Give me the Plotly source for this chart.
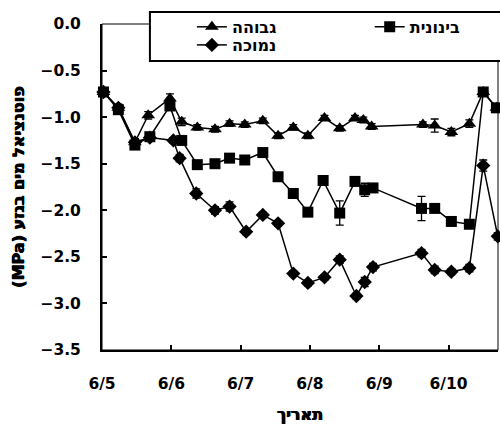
import plotly.graph_objects as go

# ---- data ----
high_t = ["2005-06-05 00:30", "2005-06-05 05:40", "2005-06-05 11:24", "2005-06-05 16:00",
          "2005-06-05 23:31", "2005-06-06 03:36", "2005-06-06 09:00", "2005-06-06 15:07",
          "2005-06-06 20:10", "2005-06-07 01:26", "2005-06-07 07:41", "2005-06-07 12:58",
          "2005-06-07 18:14", "2005-06-07 23:17", "2005-06-08 05:02", "2005-06-08 10:19",
          "2005-06-08 15:36", "2005-06-08 18:29", "2005-06-08 21:22", "2005-06-09 15:07",
          "2005-06-09 19:12", "2005-06-10 00:58", "2005-06-10 07:12", "2005-06-10 12:00",
          "2005-06-10 16:34"]
high_v = [-0.73, -0.90, -1.27, -0.98, -0.80, -1.05, -1.11, -1.13, -1.07, -1.08, -1.04, -1.20,
          -1.11, -1.20, -1.01, -1.12, -1.01, -1.03, -1.10, -1.08, -1.09, -1.16, -1.07, -0.73, -0.90]
high_e = [0.03, 0.04, 0.04, 0.04, 0.05, 0.04, 0.03, 0.03, 0.03, 0.03, 0.03, 0.03,
          0.03, 0.03, 0.03, 0.03, 0.03, 0.03, 0.03, 0.03, 0.07, 0.04, 0.04, 0.03, 0.03]

mid_t = ["2005-06-05 00:30", "2005-06-05 05:40", "2005-06-05 11:24", "2005-06-05 16:34",
         "2005-06-05 23:31", "2005-06-06 03:36", "2005-06-06 09:00", "2005-06-06 15:07",
         "2005-06-06 20:10", "2005-06-07 01:26", "2005-06-07 07:41", "2005-06-07 12:58",
         "2005-06-07 18:14", "2005-06-07 23:17", "2005-06-08 04:34", "2005-06-08 10:19",
         "2005-06-08 15:36", "2005-06-08 18:58", "2005-06-08 21:50", "2005-06-09 14:38",
         "2005-06-09 19:12", "2005-06-10 00:58", "2005-06-10 07:12", "2005-06-10 12:00",
         "2005-06-10 16:34"]
mid_v = [-0.73, -0.92, -1.30, -1.21, -0.88, -1.25, -1.51, -1.50, -1.44, -1.46, -1.38, -1.64,
         -1.82, -2.02, -1.68, -2.03, -1.69, -1.78, -1.76, -1.98, -1.98, -2.12, -2.15, -0.73, -0.90]
mid_e = [0.03, 0.03, 0.04, 0.03, 0.03, 0.03, 0.03, 0.03, 0.03, 0.03, 0.03, 0.04,
         0.03, 0.03, 0.03, 0.13, 0.03, 0.07, 0.03, 0.13, 0.03, 0.03, 0.03, 0.03, 0.03]

low_t = ["2005-06-05 00:30", "2005-06-05 05:40", "2005-06-05 11:24", "2005-06-05 16:34",
         "2005-06-06 00:43", "2005-06-06 02:53", "2005-06-06 08:38", "2005-06-06 15:07",
         "2005-06-06 20:10", "2005-06-07 01:55", "2005-06-07 07:41", "2005-06-07 12:58",
         "2005-06-07 18:14", "2005-06-07 23:17", "2005-06-08 05:02", "2005-06-08 10:19",
         "2005-06-08 16:05", "2005-06-08 18:58", "2005-06-08 21:50", "2005-06-09 14:38",
         "2005-06-09 19:12", "2005-06-10 00:58", "2005-06-10 07:12", "2005-06-10 12:00",
         "2005-06-10 17:02"]
low_v = [-0.73, -0.90, -1.27, -1.22, -1.25, -1.44, -1.82, -2.00, -1.96, -2.23, -2.05, -2.14,
         -2.68, -2.78, -2.72, -2.53, -2.92, -2.77, -2.61, -2.46, -2.64, -2.66, -2.62, -1.52, -2.28]
low_e = [0.03, 0.03, 0.04, 0.03, 0.03, 0.04, 0.05, 0.04, 0.05, 0.03, 0.03, 0.03,
         0.03, 0.03, 0.03, 0.04, 0.03, 0.05, 0.04, 0.04, 0.04, 0.03, 0.04, 0.06, 0.04]

names = ["גבוהה", "בינונית", "נמוכה"]
symbols = ["triangle-up", "square", "diamond"]
sizes = [12, 11, 11]

x_ticks = ["2005-06-05", "2005-06-06", "2005-06-07", "2005-06-08", "2005-06-09", "2005-06-10"]
x_ticktext = ["6/5", "6/6", "6/7", "6/8", "6/9", "6/10"]
x_range = ["2005-06-05 00:00", "2005-06-10 17:07"]

NUMFONT = "DejaVu Sans, Liberation Sans, Arial, sans-serif"
HEBFONT = "DejaVu Sans, Liberation Sans, Arial, sans-serif"
HEAVY = "0.5px 0 0 black, -0.5px 0 0 black"

legend_ids = ["legend", "legend2", "legend3"]

fig = go.Figure()
for t, v, e, n, s, sz, lg in zip([high_t, mid_t, low_t], [high_v, mid_v, low_v],
                                 [high_e, mid_e, low_e], names, symbols, sizes, legend_ids):
    fig.add_trace(go.Scatter(
        x=t, y=v, name=n, mode="lines+markers", legend=lg,
        line=dict(color="black", width=1.5),
        marker=dict(symbol=s, size=sz, color="black"),
        error_y=dict(type="data", array=e, visible=True, color="black", thickness=1.3, width=4),
        cliponaxis=False,
    ))

heb_font = dict(family=HEBFONT, size=16, color="black", weight="bold", shadow=HEAVY)
leg_font = dict(family=HEBFONT, size=16, color="black", weight="bold")

def leg(x, y):
    return dict(x=x, y=y, xanchor="left", yanchor="middle", orientation="v",
                bgcolor="rgba(0,0,0,0)", borderwidth=0, font=leg_font)

fig.update_layout(
    width=500, height=426,
    margin=dict(l=102, r=2, t=24, b=76),
    paper_bgcolor="white", plot_bgcolor="white",
    font=dict(family=NUMFONT, size=15, color="black", weight="bold"),
    showlegend=True,
    legend=leg(0.227, 0.991),
    legend2=leg(0.676, 0.991),
    legend3=leg(0.227, 0.9356),
    shapes=[
        dict(type="rect", xref="paper", yref="paper", x0=0, x1=1, y0=0, y1=1,
             line=dict(color="black", width=1), layer="below"),
        dict(type="rect", xref="paper", yref="paper", x0=0.121, x1=1.02, y0=0.8865, y1=1.0368,
             line=dict(color="black", width=2), fillcolor="white", layer="above"),
    ],
)

fig.update_xaxes(
    type="date", range=x_range,
    tickvals=x_ticks, ticktext=x_ticktext,
    ticks="inside", ticklen=5, tickwidth=1.5, tickcolor="black",
    showline=True, linewidth=2, linecolor="black",
    showgrid=False, zeroline=False,
    tickfont=dict(family=NUMFONT, size=15.5, weight="bold"),
    ticklabelstandoff=18,
    title=dict(text="תאריך", font=heb_font, standoff=17),
)
fig.update_yaxes(
    range=[-3.5, 0], dtick=0.5, tick0=0, tickformat=".1f",
    ticks="inside", ticklen=5, tickwidth=1.5, tickcolor="black",
    showline=True, linewidth=2, linecolor="black",
    showgrid=False, zeroline=False,
    tickfont=dict(family=NUMFONT, size=15.5, weight="bold"),
    ticklabelstandoff=16,
    title=dict(text="(MPa) פוטנציאל מים בגזע", font=heb_font, standoff=12),
)

fig.write_html("out.html")
